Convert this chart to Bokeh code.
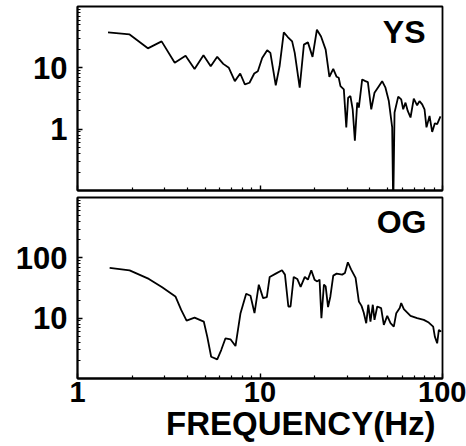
from bokeh.plotting import figure
from bokeh.layouts import column
from bokeh.models import FixedTicker, PrintfTickFormatter, Label, Title, Range1d
from bokeh.embed import file_html
from bokeh.resources import INLINE

# ---- data ----
ys_freq = [1.47, 1.93, 2.43, 2.89, 3.41, 3.91, 4.38, 4.90, 5.37, 5.83, 6.29, 6.75,
           7.28, 7.79, 8.26, 8.76, 9.30, 9.73, 10.28, 10.95, 11.4, 12.2, 12.8, 13.5,
           14.2, 15.0, 15.5, 16.5, 17.4, 18.3, 19.4, 20.5, 21.6, 22.9, 24.0, 25.2,
           26.3, 27.0, 27.6, 28.8, 29.7, 30.4, 31.3, 32.2, 33.1, 34.1, 34.8, 36.3,
           37.8, 39.0, 40.7, 42.4, 44.8, 46.7, 48.7, 50.8, 53.0, 53.7, 54.6, 57.2,
           59.4, 60.9, 62.7, 64.5, 66.8, 69.6, 72.6, 74.8, 77.4, 79.7, 81.7, 84.9,
           87.8, 90.8, 93.5, 97.5]
ys_amp = [37.8, 35.0, 20.8, 27.0, 12.1, 15.8, 9.6, 16.0, 10.6, 15.1, 11.6, 10.0,
          6.07, 8.08, 5.36, 5.71, 8.08, 8.81, 14.5, 19.3, 17.5, 5.17, 10.6, 37.8,
          31.8, 27.0, 17.5, 4.74, 23.9, 26.0, 15.1, 41.8, 32.5, 19.8, 7.15, 9.6,
          7.15, 6.88, 5.03, 4.45, 1.07, 3.26, 3.47, 2.11, 0.646, 2.71, 2.25, 6.46,
          6.07, 5.84, 2.11, 3.93, 5.03, 6.07, 4.74, 2.87, 1.07, 0.05, 1.87, 3.39,
          3.06, 2.11, 2.71, 1.98, 1.55, 3.14, 2.45, 2.87, 2.54, 2.11, 1.07, 1.64,
          0.90, 1.25, 1.21, 1.61]

og_freq = [1.50, 1.93, 2.46, 2.91, 3.44, 3.70, 3.96, 4.38, 4.92, 5.14, 5.40, 5.83,
           6.13, 6.47, 6.89, 7.34, 7.82, 8.40, 8.87, 9.33, 9.85, 10.4, 10.9, 11.3,
           12.2, 13.2, 13.7, 14.3, 14.7, 15.3, 16.0, 16.7, 17.6, 18.3, 19.1, 19.9,
           20.6, 21.2, 21.7, 22.4, 22.9, 23.6, 24.3, 25.2, 26.3, 28.2, 29.2, 30.3,
           31.6, 33.4, 34.8, 36.0, 37.0, 38.2, 39.2, 40.3, 41.5, 42.4, 43.9, 46.1,
           47.7, 49.8, 51.9, 54.1, 55.8, 58.3, 59.4, 61.4, 66.8, 72.6, 79.0, 84.1,
           88.9, 90.8, 93.5, 95.5, 98.4]
og_amp = [68.1, 62.1, 44.7, 32.4, 22.9, 13.7, 9.12, 10.2, 8.78, 4.94, 2.29, 2.07,
          2.96, 4.64, 4.47, 3.45, 12.1, 25.4, 23.5, 12.1, 35.9, 21.5, 22.4, 48.2,
          54.7, 62.1, 52.7, 15.6, 15.6, 48.2, 44.7, 32.9, 48.2, 43.5, 62.1, 43.5,
          40.7, 43.5, 10.0, 35.9, 33.6, 15.3, 22.9, 50.7, 54.7, 52.7, 56.2, 84.5,
          63.8, 46.4, 18.9, 16.0, 12.4, 8.25, 16.7, 8.78, 16.7, 9.37, 15.6, 14.7,
          7.73, 10.9, 8.25, 7.24, 12.1, 14.7, 17.8, 14.1, 10.9, 10.0, 9.37, 8.45,
          7.24, 4.94, 3.83, 6.38, 5.98]

x_ticks = [1, 10, 100]
ys_ticks = [1, 10]
og_ticks = [10, 100]

FONT = "Liberation Sans"
minor = [m * 10 ** e for e in range(-1, 3) for m in range(2, 10)]


def style(p):
    p.outline_line_color = "black"
    p.outline_line_width = 1.8
    p.grid.visible = False
    p.background_fill_color = "white"
    p.border_fill_color = "white"
    for ax in p.axis:
        ax.axis_line_width = 1.8
        ax.axis_line_color = "black"
        ax.major_tick_in = 5
        ax.major_tick_out = 0
        ax.minor_tick_in = 3
        ax.minor_tick_out = 0
        ax.major_tick_line_width = 1.4
        ax.minor_tick_line_width = 1.2
        ax.major_label_text_font = FONT
        ax.major_label_text_font_style = "bold"
        ax.major_label_text_font_size = "31px"
        ax.major_label_text_color = "black"
        ax.major_label_standoff = 10


# ---- top panel (YS) ----
p1 = figure(width=466, height=196, x_axis_type="log", y_axis_type="log",
            x_range=Range1d(1, 100), y_range=Range1d(0.1, 100),
            min_border_left=77, min_border_right=24, min_border_top=6,
            min_border_bottom=6, output_backend="svg", toolbar_location=None)
p1.line(ys_freq, ys_amp, line_color="black", line_width=1.8)
style(p1)
p1.xaxis.ticker = FixedTicker(ticks=x_ticks, minor_ticks=minor)
p1.xaxis.major_label_text_font_size = "1px"
p1.xaxis.major_label_text_color = None
p1.xaxis.major_label_standoff = 0
p1.yaxis.ticker = FixedTicker(ticks=ys_ticks, minor_ticks=minor)
p1.yaxis.formatter = PrintfTickFormatter(format="%d")
p1.add_layout(Label(x=80.7, y=38, text="YS", text_align="right",
                    text_baseline="alphabetic", text_font=FONT,
                    text_font_style="bold", text_font_size="32px",
                    text_color="black"))

# ---- bottom panel (OG) ----
p2 = figure(width=466, height=250, x_axis_type="log", y_axis_type="log",
            x_range=Range1d(1, 100), y_range=Range1d(1, 1000),
            min_border_left=77, min_border_right=24, min_border_top=1,
            min_border_bottom=68, output_backend="svg", toolbar_location=None)
p2.line(og_freq, og_amp, line_color="black", line_width=1.8)
style(p2)
p2.xaxis.ticker = FixedTicker(ticks=x_ticks, minor_ticks=minor)
p2.xaxis.formatter = PrintfTickFormatter(format="%d")
p2.xaxis.major_label_text_font_size = "29px"
p2.xaxis.major_label_standoff = 3
p2.yaxis.ticker = FixedTicker(ticks=og_ticks, minor_ticks=minor)
p2.yaxis.formatter = PrintfTickFormatter(format="%d")
p2.add_layout(Label(x=81.7, y=400, text="OG", text_align="right",
                    text_baseline="alphabetic", text_font=FONT,
                    text_font_style="bold", text_font_size="32px",
                    text_color="black"))
p2.add_layout(Title(text="FREQUENCY(Hz)", align="right", offset=7, standoff=-4,
                    text_font=FONT, text_font_style="bold",
                    text_font_size="33px", text_color="black"), "below")

layout = column(p1, p2)
open("out.html", "w").write(file_html(layout, INLINE))
